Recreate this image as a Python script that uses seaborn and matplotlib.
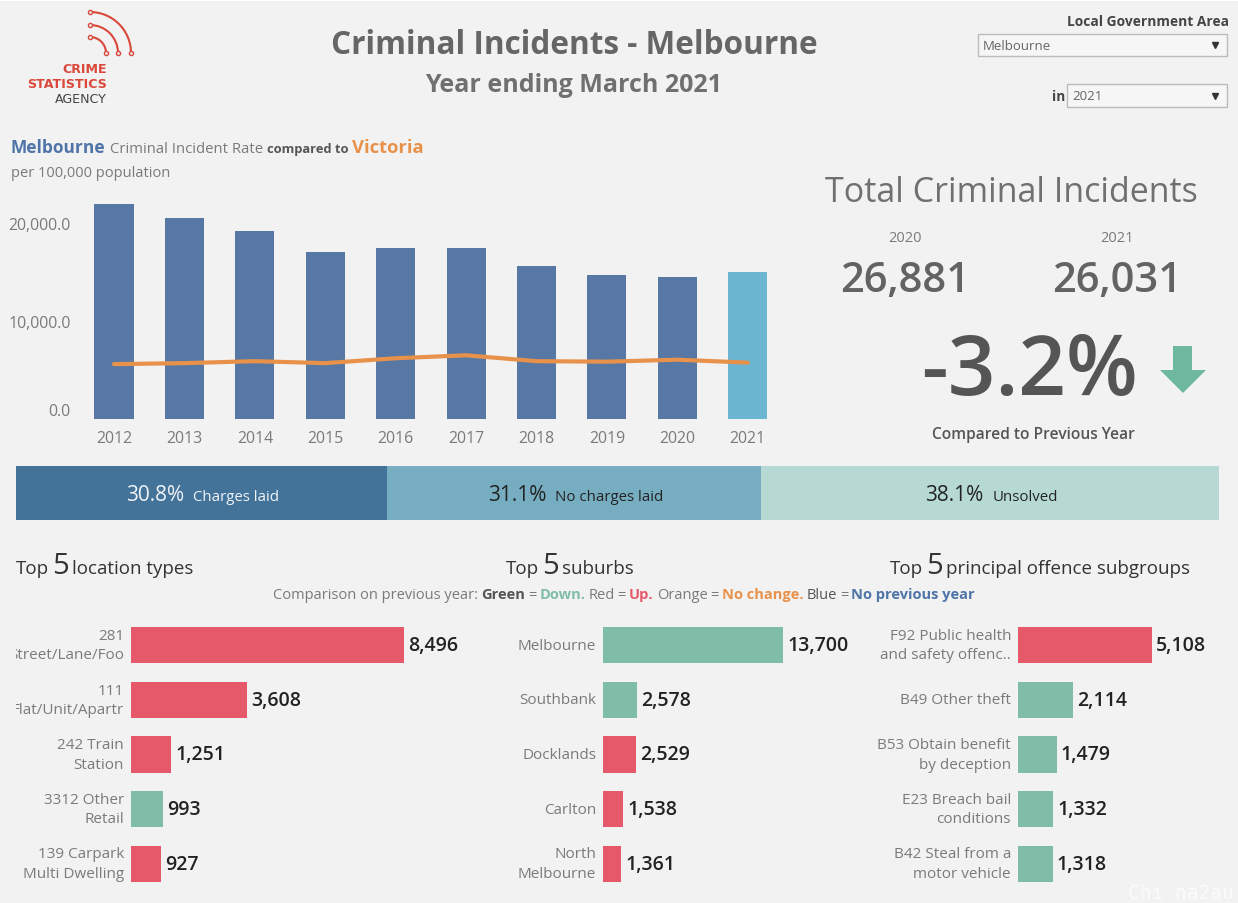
#!/usr/bin/env python
# -*- coding: utf-8 -*-

"""
Criminal Incidents dashboard - Melbourne, year ending March 2021.
"""

import matplotlib
matplotlib.use("Agg")
import matplotlib.pyplot as plt
import seaborn as sns
from matplotlib.patches import Arc, Polygon, Rectangle
from matplotlib.transforms import Bbox

# Data
years = ["2012", "2013", "2014", "2015", "2016", "2017", "2018", "2019", "2020", "2021"]
melbourne_rate = [21900, 20500, 19200, 17000, 17450, 17450, 15600, 14700, 14500, 15000]
victoria_rate = [5600, 5700, 5900, 5700, 6200, 6500, 5900, 5850, 6050, 5750]
rate_ticks = [0, 10000, 20000]
rate_tick_labels = ["0.0", "10,000.0", "20,000.0"]

outcome_names = ["Charges laid", "No charges laid", "Unsolved"]
outcome_shares = [30.8, 31.1, 38.1]

location_names = ["281\nStreet/Lane/Foo", "111\nFlat/Unit/Apartr", "242 Train\nStation",
                  "3312 Other\nRetail", "139 Carpark\nMulti Dwelling"]
location_counts = [8496, 3608, 1251, 993, 927]
location_change = ["up", "up", "up", "down", "up"]

suburb_names = ["Melbourne", "Southbank", "Docklands", "Carlton", "North\nMelbourne"]
suburb_counts = [13700, 2578, 2529, 1538, 1361]
suburb_change = ["down", "down", "up", "up", "up"]

offence_names = ["F92 Public health\nand safety offenc..", "B49 Other theft",
                 "B53 Obtain benefit\nby deception", "E23 Breach bail\nconditions",
                 "B42 Steal from a\nmotor vehicle"]
offence_counts = [5108, 2114, 1479, 1332, 1318]
offence_change = ["up", "down", "down", "down", "down"]

total_years = ["2020", "2021"]
total_incidents = ["26,881", "26,031"]
total_change = "-3.2%"

# Colours
BG = "#F2F2F2"
BLUE = "#5778A4"
LIGHT_BLUE = "#6DB6D2"
ORANGE = "#E8914A"
RED = "#E6596B"
GREEN = "#80BDA8"
GREY = "#7A7A7A"
DARK = "#555555"
change_colours = {"up": RED, "down": GREEN}
outcome_colours = ["#44739A", "#76ADC1", "#B6DAD3"]
outcome_text = ["#F0F4F7", "#222222", "#222222"]

W, H = 1238, 904

sns.set_theme(style="white")
plt.rcParams["font.family"] = ["Open Sans", "DejaVu Sans"]

fig = plt.figure(figsize=(W / 100, H / 100), dpi=100, facecolor=BG)


def px_axes(left, top, right, bottom):
    """Axes placed with pixel coordinates from the top left corner."""
    ax = fig.add_axes([left / W, 1 - bottom / H, (right - left) / W, (bottom - top) / H])
    ax.set_facecolor("none")
    return ax


# Overlay used for all the free text and decorations
ov = px_axes(0, 0, W, H)
ov.set_xlim(0, W)
ov.set_ylim(H, 0)
ov.axis("off")
renderer = fig.canvas.get_renderer()


def runs(x, y, parts, gap=4):
    """Writes pieces of text one after the other on the same baseline."""
    for text, colour, size, weight in parts:
        t = ov.text(x, y, text, color=colour, fontsize=size, fontweight=weight, va="baseline")
        x += t.get_window_extent(renderer).width + gap
    return x


# Thin white strip at the top of the screenshot
ov.add_patch(Rectangle((0, 0), W, 2, fc="white", ec="none"))

# Logo
logo_red = "#D9483B"
for radius in [41, 28, 16]:
    ov.add_patch(Arc((90, 54), radius * 2, radius * 2, theta1=270, theta2=360, color=logo_red, lw=1.5))
    ov.plot([90, 90 + radius], [54 - radius, 54], "o", ms=3, mfc=BG, mec=logo_red, mew=1)
ov.text(107, 73, "CRIME", color=logo_red, fontsize=9.1, fontweight="bold", ha="right",
        family="DejaVu Sans")
ov.text(107, 88, "STATISTICS", color=logo_red, fontsize=9.1, fontweight="bold", ha="right",
        family="DejaVu Sans")
ov.text(107, 103, "AGENCY", color="#444444", fontsize=9.1, ha="right", family="DejaVu Sans")

# Titles
ov.text(574, 45, "Criminal Incidents - Melbourne", color="#666666", fontsize=22.7, fontweight="bold",
        ha="center", va="center")
ov.text(574, 85, "Year ending March 2021", color="#707070", fontsize=18, fontweight="bold",
        ha="center", va="center")

# Filters
ov.text(1229, 22, "Local Government Area", color="#444444", fontsize=9.9, fontweight="bold",
        ha="right", va="center")
ov.add_patch(Rectangle((978, 35), 249, 22, fc="#F6F6F6", ec="#BBBBBB", lw=1))
ov.text(983, 46, "Melbourne", color="#666666", fontsize=9.5, va="center")
ov.plot([1215], [46], "v", ms=4, color="#333333")
ov.text(1065, 97, "in", color="#444444", fontsize=9.8, fontweight="bold", ha="right", va="center")
ov.add_patch(Rectangle((1067, 85), 160, 23, fc="#F6F6F6", ec="#BBBBBB", lw=1))
ov.text(1072, 97, "2021", color="#666666", fontsize=9.5, va="center")
ov.plot([1215], [97], "v", ms=4, color="#333333")

# Rate chart header
runs(11, 153, [("Melbourne", "#4F74A8", 12.5, "bold"),
               ("Criminal Incident Rate", GREY, 10.7, "normal"),
               ("compared to", "#555555", 9.3, "bold"),
               ("Victoria", ORANGE, 13.2, "bold")])
ov.text(11, 177, "per 100,000 population", color=GREY, fontsize=10.5)

# Rate chart
ax = px_axes(78.8, 191, 783, 420)
sns.barplot(x=years, y=melbourne_rate, hue=years, legend=False, width=0.555, saturation=1,
            palette=[BLUE] * (len(years) - 1) + [LIGHT_BLUE], linewidth=0, ax=ax)
sns.lineplot(x=list(range(len(years))), y=victoria_rate, color=ORANGE, linewidth=3, ax=ax)
ax.set_xlim(-0.5, len(years) - 0.5)
ax.set_ylim(0, 23367)
ax.set_yticks(rate_ticks, rate_tick_labels)
ax.tick_params(axis="y", length=0, labelsize=11.4, labelcolor=GREY, pad=6)
ax.tick_params(axis="x", length=0, labelsize=11.4, labelcolor=GREY, pad=8)
ax.get_yticklabels()[0].set_verticalalignment("bottom")
sns.despine(ax=ax, left=True, bottom=True)

# Total incidents
ov.text(1011, 193, "Total Criminal Incidents", color="#707070", fontsize=24.5, ha="center", va="center")
for x, year, total in zip([905, 1117], total_years, total_incidents):
    ov.text(x, 238, year, color=GREY, fontsize=10.5, ha="center", va="center")
    ov.text(x, 281, total, color="#636363", fontsize=30, fontweight="semibold", ha="center", va="center")
ov.text(1030, 373, total_change, color=DARK, fontsize=60, fontweight="semibold", ha="center", va="center")
ov.add_patch(Polygon([(1173, 347), (1192, 347), (1192, 371), (1206, 371), (1183, 394), (1160, 371), (1173, 371)],
                     fc="#6FB8A0", ec="none"))
ov.text(1033, 435, "Compared to Previous Year", color=DARK, fontsize=11.2, fontweight="semibold",
        ha="center", va="center")

# Outcome strip
ax = px_axes(16, 467, 1219, 521)
left = 0
label_x = [126, 488, 925]
for name, share, colour, txt, x in zip(outcome_names, outcome_shares, outcome_colours, outcome_text, label_x):
    ax.barh([0], [share], left=left, height=1, color=colour, linewidth=0)
    runs(x, 501, [(f"{share}%", txt, 15, "normal"), (name, txt, 10.8, "normal")], gap=9)
    left += share
ax.set_xlim(0, sum(outcome_shares))
ax.set_ylim(-0.5, 0.5)
ax.axis("off")

# Top 5 headings
for x, rest in [(16, "location types"), (506, "suburbs"), (890, "principal offence subgroups")]:
    runs(x, 574, [("Top", "#333333", 13.5, "normal"), ("5", "#333333", 21, "normal"),
                  (rest, "#333333", 13.5, "normal")], gap=3)

runs(273, 599, [("Comparison on previous year:", GREY, 10.5, "normal"), ("Green", DARK, 10.5, "bold"),
                ("=", GREY, 10.5, "normal"), ("Down.", GREEN, 10.5, "bold"), ("Red", GREY, 10.5, "normal"),
                ("=", GREY, 10.5, "normal"), ("Up.", RED, 10.5, "bold"), ("Orange", GREY, 10.5, "normal"),
                ("=", GREY, 10.5, "normal"), ("No change.", ORANGE, 10.5, "bold"), ("Blue", DARK, 10.5, "normal"),
                ("=", GREY, 10.5, "normal"), ("No previous year", "#4F74A8", 10.5, "bold")], gap=3)


def top5(left, right, names, counts, change, xmax):
    """Horizontal bars of a top 5 panel, coloured by change on previous year."""
    ax = px_axes(left, 619, right, 892)
    colours = [change_colours[c] for c in change]
    sns.barplot(x=counts, y=names, hue=names, legend=False, palette=colours, width=0.66,
                saturation=1, orient="h", linewidth=0, ax=ax)
    ax.set_xlim(0, xmax)
    ax.set_ylim(4.5, -0.5)
    ax.set_xticks([])
    ax.set_xlabel("")
    ax.set_ylabel("")
    ax.tick_params(axis="y", length=0, labelsize=11, labelcolor=GREY, pad=5)
    for label in ax.get_yticklabels():
        label.set_linespacing(1.4)
        label.set_multialignment("right")
        label.set_verticalalignment("center")
        # long labels are cut at the panel edge in the original
        label.set_clip_box(Bbox([[16, 0], [W, H]]))
        label.set_clip_on(True)
    for container in ax.containers:
        ax.bar_label(container, labels=[f"{v:,.0f}" for v in container.datavalues], padding=3,
                     fontsize=14, color="#222222", fontweight="semibold")
    sns.despine(ax=ax, left=True, bottom=True)


top5(131, 470, location_names, location_counts, location_change, 339 / 273 * 8496)
top5(603, 870, suburb_names, suburb_counts, suburb_change, 267 / 180 * 13700)
top5(1018, 1225, offence_names, offence_counts, offence_change, 207 / 134 * 5108)

ov.set_zorder(5)
ov.text(1128, 899, "Chi na2au", color="#FFFFFF", fontsize=14, alpha=0.75, family="DejaVu Sans Mono")

fig.savefig("out.png", dpi=100, facecolor=BG)
